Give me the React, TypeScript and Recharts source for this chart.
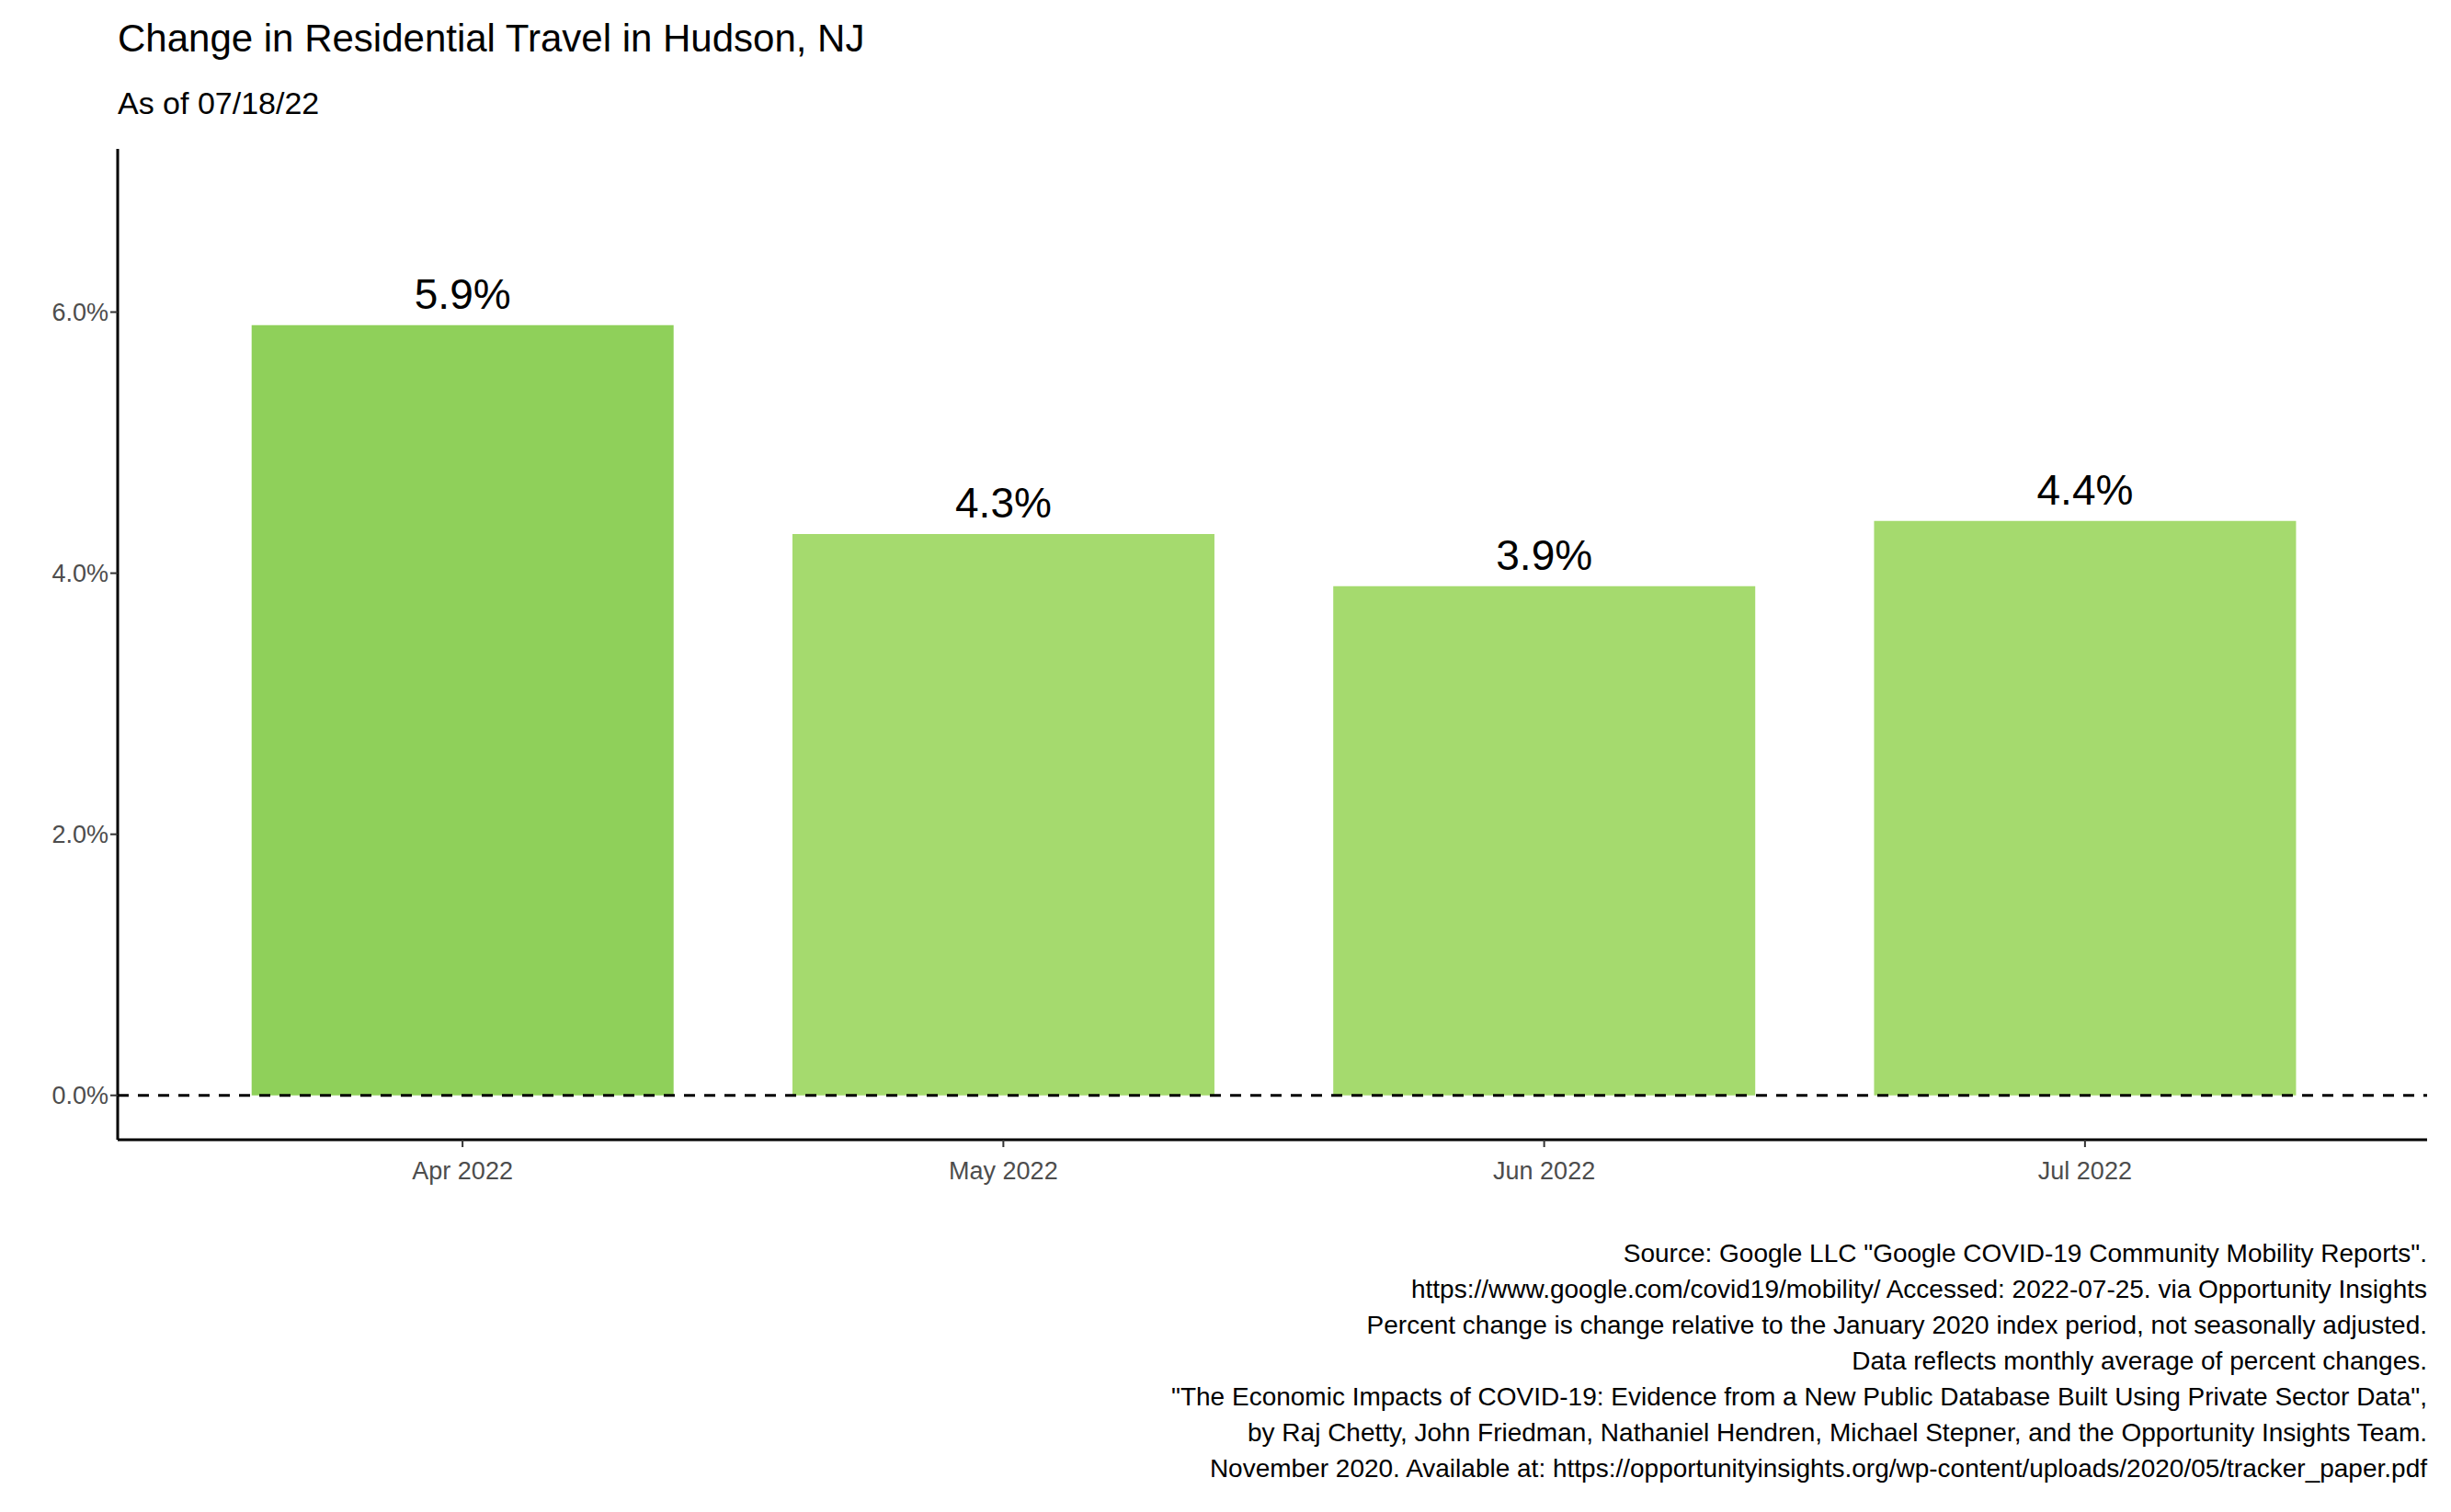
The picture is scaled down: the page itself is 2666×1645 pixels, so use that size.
import React from "react";
import { BarChart, Bar, XAxis, YAxis, ReferenceLine, LabelList, Cell } from "recharts";

const categories = ["Apr 2022", "May 2022", "Jun 2022", "Jul 2022"];
const values = [5.9, 4.3, 3.9, 4.4];
const colors = ["#8fd05a", "#a5da6e", "#a5da6e", "#a5da6e"];
const yTicks = [0, 2, 4, 6];
const captionLines = [
  'Source: Google LLC "Google COVID-19 Community Mobility Reports".',
  "https://www.google.com/covid19/mobility/ Accessed: 2022-07-25. via Opportunity Insights",
  "Percent change is change relative to the January 2020 index period, not seasonally adjusted.",
  "Data reflects monthly average of percent changes.",
  '"The Economic Impacts of COVID-19: Evidence from a New Public Database Built Using Private Sector Data",',
  "by Raj Chetty, John Friedman, Nathaniel Hendren, Michael Stepner, and the Opportunity Insights Team.",
  "November 2020. Available at: https://opportunityinsights.org/wp-content/uploads/2020/05/tracker_paper.pdf",
];

const data = categories.map((c, i) => ({ name: c, value: values[i] }));
const font = "'Liberation Sans', Arial, sans-serif";

export default function App() {
  return (
    <div style={{ position: "absolute", left: 0, top: 0, width: 2666, height: 1645, background: "#fff", fontFamily: font }}>
      <div style={{ position: "absolute", left: 128, top: 18, fontSize: 42, color: "#000" }}>
        Change in Residential Travel in Hudson, NJ
      </div>
      <div style={{ position: "absolute", left: 128, top: 93, fontSize: 34, color: "#000" }}>As of 07/18/22</div>
      <div style={{ position: "absolute", left: 0, top: 0 }}>
        <BarChart width={2666} height={1645} data={data} margin={{ top: 162, left: 0, right: 26, bottom: 375 }} barCategoryGap="11%">
          <XAxis
            dataKey="name"
            padding={{ left: 81, right: 78 }}
            axisLine={{ stroke: "#000", strokeWidth: 3 }}
            tickLine={{ stroke: "#333", strokeWidth: 2 }}
            tickSize={8}
            tick={{ fill: "#4d4d4d", fontSize: 27, fontFamily: font, dy: 14 }}
          />
          <YAxis
            width={128}
            domain={[-0.34, 7.25]}
            ticks={yTicks}
            tickFormatter={(v: number) => v.toFixed(1) + "%"}
            axisLine={{ stroke: "#000", strokeWidth: 3 }}
            tickLine={{ stroke: "#333", strokeWidth: 2 }}
            tickSize={8}
            tick={{ fill: "#4d4d4d", fontSize: 27, fontFamily: font }}
          />
          <ReferenceLine y={0} stroke="#000" strokeWidth={3} strokeDasharray="12 10" />
          <Bar dataKey="value" isAnimationActive={false}>
            {data.map((d, i) => (
              <Cell key={d.name} fill={colors[i]} />
            ))}
            <LabelList
              dataKey="value"
              position="top"
              offset={18}
              formatter={(v: number) => v.toFixed(1) + "%"}
              style={{ fill: "#000", fontSize: 46, fontFamily: font }}
            />
          </Bar>
        </BarChart>
      </div>
      <div style={{ position: "absolute", right: 26, top: 1344, textAlign: "right", fontSize: 28, lineHeight: "39px", color: "#000" }}>
        {captionLines.map((l) => (
          <div key={l}>{l}</div>
        ))}
      </div>
    </div>
  );
}
